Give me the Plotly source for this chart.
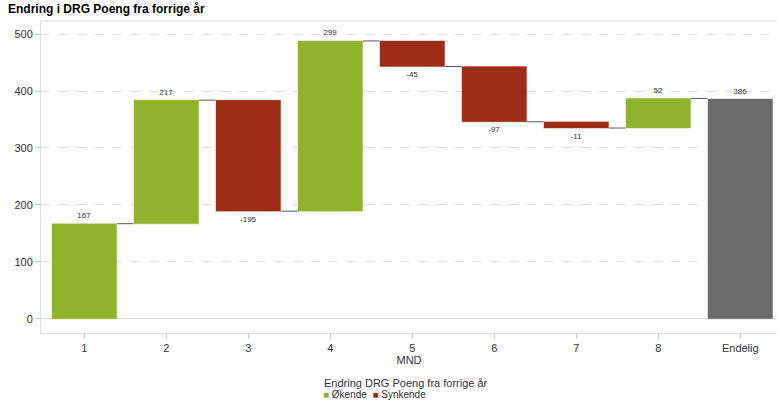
import plotly.graph_objects as go

categories = ["1", "2", "3", "4", "5", "6", "7", "8", "Endelig"]
values = [167, 217, -195, 299, -45, -97, -11, 52, 386]
measures = ["relative"] * 8 + ["absolute"]
labels = ["167", "217", "-195", "299", "-45", "-97", "-11", "52", "386"]
y_ticks = [0, 100, 200, 300, 400, 500]
legend_title = "Endring DRG Poeng fra forrige år"
legend_names = ["Økende", "Synkende"]

GREEN = "#91B22B"
RED = "#9E2D17"
GRAY = "#6B6B6B"
FONT = "Liberation Sans, Arial, sans-serif"

fig = go.Figure()
fig.add_trace(go.Waterfall(
    x=categories, y=values, measure=measures,
    text=labels, textposition="outside",
    textfont=dict(size=8, color="#333333", family=FONT),
    increasing=dict(marker=dict(color=GREEN, line=dict(color="rgba(255,255,255,0.6)", width=1))),
    decreasing=dict(marker=dict(color=RED, line=dict(color="rgba(255,255,255,0.6)", width=1))),
    totals=dict(marker=dict(color=GRAY, line=dict(color="rgba(255,255,255,0.6)", width=1))),
    connector=dict(line=dict(color="#555555", width=1)),
    showlegend=False, cliponaxis=False, hoverinfo="skip",
))

fig.update_layout(
    width=778, height=402,
    margin=dict(l=41, r=1, t=21, b=69, autoexpand=False),
    paper_bgcolor="white", plot_bgcolor="white",
    font=dict(family=FONT, color="#333333", size=11),
    waterfallgap=0.2,
    showlegend=False,
    title=dict(text="<b>Endring i DRG Poeng fra forrige år</b>", x=0, xref="container",
               xanchor="left", y=1, yref="container", yanchor="top",
               pad=dict(l=8, t=5), font=dict(size=12, color="#000000", family=FONT)),
)
fig.add_annotation(text=legend_title, xref="paper", yref="paper",
                   x=(322 - 41) / 736, y=(333 - 375) / 312, xanchor="left", yanchor="top",
                   showarrow=False, font=dict(size=11, color="#333333"))
fig.add_annotation(
    text=(f"<span style='color:{GREEN}'>■</span> {legend_names[0]}  "
          f"<span style='color:{RED}'>■</span> {legend_names[1]}"),
    xref="paper", yref="paper",
    x=(321 - 41) / 736, y=(333 - 387) / 312, xanchor="left", yanchor="top",
    showarrow=False, font=dict(size=10, color="#333333"))

fig.update_xaxes(
    type="category", range=[-0.528, 8.448],
    showline=True, linecolor="#DDDDDD", linewidth=1,
    ticks="outside", ticklen=5, tickcolor="#CCCCCC",
    tickfont=dict(size=11, color="#333333"),
    title=dict(text="MND", font=dict(size=11, color="#333333"), standoff=0),
    mirror=False, showgrid=False,
)
fig.update_yaxes(
    range=[-25, 523], tickvals=y_ticks,
    showline=True, linecolor="#DDDDDD", linewidth=1, mirror=False,
    ticks="outside", ticklen=5, tickcolor="#CCCCCC",
    tickfont=dict(size=11, color="#333333"),
    showgrid=True, gridcolor="#DDDDDD", griddash="dash", gridwidth=1,
    zeroline=True, zerolinecolor="#DDDDDD", zerolinewidth=1,
)
fig.add_shape(type="line", xref="paper", yref="paper", x0=0, x1=1, y0=1, y1=1,
              line=dict(color="#DDDDDD", width=1))

fig.write_html("out.html")
